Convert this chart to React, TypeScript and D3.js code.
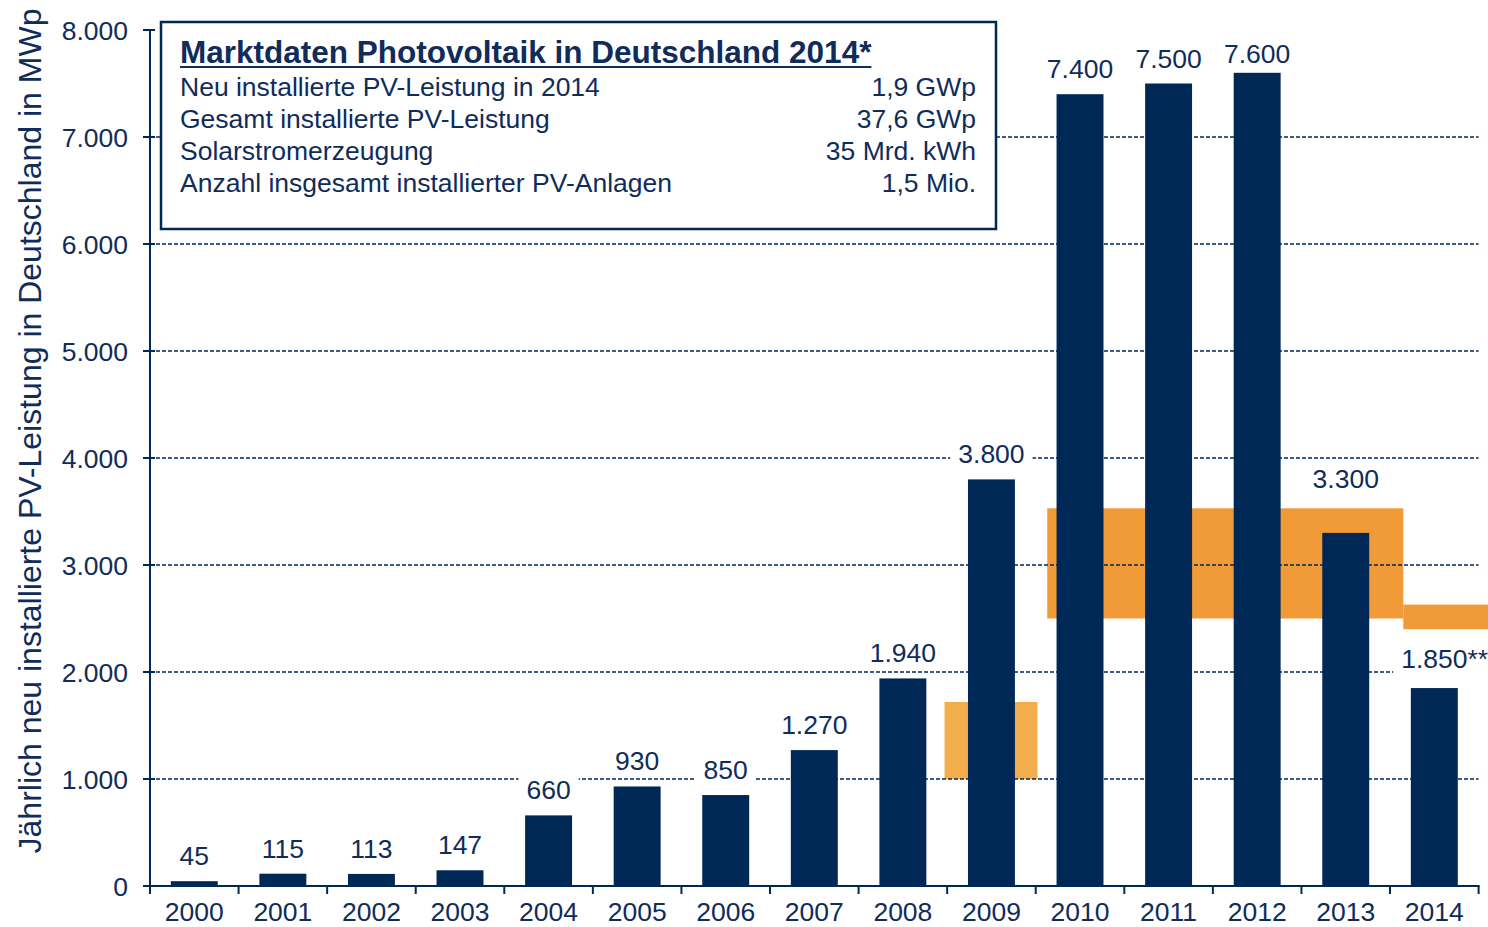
import React, { useEffect, useRef } from "react";
import * as d3 from "d3";

// Jährlich neu installierte PV-Leistung (MWp)
const years = ["2000", "2001", "2002", "2003", "2004", "2005", "2006", "2007", "2008", "2009", "2010", "2011", "2012", "2013", "2014"];
const installed = [45, 115, 113, 147, 660, 930, 850, 1270, 1940, 3800, 7400, 7500, 7600, 3300, 1850];
const labelSuffix = ["", "", "", "", "", "", "", "", "", "", "", "", "", "", "**"];

const yTicks = [0, 1000, 2000, 3000, 4000, 5000, 6000, 7000, 8000];
const gridValues = [1000, 2000, 3000, 4000, 5000, 6000, 7000];

// Zubaukorridore (in Jahren auf der Achse, MWp)
const corridorFrom = [2008.97, 2010.13, 2014.15];
const corridorTo = [2010.02, 2014.15, 2015.2];
const corridorLow = [1000, 2500, 2400];
const corridorHigh = [1720, 3530, 2630];

const boxTitle = "Marktdaten Photovoltaik in Deutschland 2014*";
const boxLabels = ["Neu installierte PV-Leistung in 2014", "Gesamt installierte PV-Leistung", "Solarstromerzeugung", "Anzahl insgesamt installierter PV-Anlagen"];
const boxValues = ["1,9 GWp", "37,6 GWp", "35 Mrd. kWh", "1,5 Mio."];

const NAVY = "#002856";
const TEXT = "#0f2c5a";
const FONT = "'Liberation Sans', Arial, sans-serif";
const FS = 26.5;

const de = d3.formatLocale({ decimal: ",", thousands: ".", grouping: [3], currency: ["", " €"] });
const fmt = de.format(",d");

const App = () => {
    const ref = useRef(null);

    useEffect(() => {
        const svg = d3.select(ref.current);
        svg.selectAll("*").remove();

        const left = 150, right = 1478.6, top = 30, bottom = 886;

        const x = d3.scaleBand().domain(years).range([left, right]).paddingInner(0.47).paddingOuter(0.235);
        const xYear = d3.scaleLinear().domain([2000, 2015]).range([left, right]);
        const y = d3.scaleLinear().domain([0, 8000]).range([bottom, top]);
        const step = x.step();

        // corridors
        svg.append("g").selectAll("rect")
            .data(corridorFrom.map((f, i) => ({ f, t: corridorTo[i], lo: corridorLow[i], hi: corridorHigh[i], i })))
            .enter().append("rect")
            .attr("x", d => xYear(d.f))
            .attr("width", d => Math.min(xYear(d.t), 1488) - xYear(d.f))
            .attr("y", d => y(d.hi))
            .attr("height", d => y(d.lo) - y(d.hi))
            .attr("fill", d => d.i === 0 ? "#f2ad4d" : "#f09b37");

        // grid
        svg.append("g").selectAll("line")
            .data(gridValues).enter().append("line")
            .attr("x1", left).attr("x2", right)
            .attr("y1", d => y(d)).attr("y2", d => y(d))
            .attr("stroke", NAVY).attr("stroke-width", 1.5)
            .attr("stroke-dasharray", "4,2");

        // bars
        svg.append("g").selectAll("rect")
            .data(years).enter().append("rect")
            .attr("x", d => x(d))
            .attr("width", x.bandwidth())
            .attr("y", (d, i) => y(installed[i]))
            .attr("height", (d, i) => bottom - y(installed[i]))
            .attr("fill", NAVY);

        // value labels with white background
        const labels = svg.append("g").attr("font-family", FONT).attr("font-size", FS).attr("fill", TEXT);
        years.forEach((yr, i) => {
            let by = Math.max(y(installed[i]) - 16, 63);
            if (yr === "2013") by = y(corridorHigh[1]) - 20;
            if (yr === "2014") by = y(installed[i]) - 20;
            const cx = x(yr) + x.bandwidth() / 2;
            const g = labels.append("g");
            const bg = g.append("rect").attr("fill", "white");
            const t = g.append("text")
                .attr("x", cx).attr("y", by)
                .attr("text-anchor", "middle")
                .text(fmt(installed[i]));
            let w = (t.node() as any).getComputedTextLength();
            if (labelSuffix[i]) {
                t.attr("text-anchor", "start").attr("x", cx - w / 2).text(fmt(installed[i]) + labelSuffix[i]);
                const w2 = (t.node() as any).getComputedTextLength();
                bg.attr("x", cx - w / 2 - 8).attr("width", w2 + 16);
            } else {
                bg.attr("x", cx - w / 2 - 8).attr("width", w + 16);
            }
            bg.attr("y", by - 22).attr("height", 28);
        });

        // axes
        const axes = svg.append("g").attr("stroke", NAVY).attr("stroke-width", 2);
        axes.append("line").attr("x1", left).attr("x2", left).attr("y1", top).attr("y2", bottom);
        axes.append("line").attr("x1", left).attr("x2", right + 1).attr("y1", bottom).attr("y2", bottom);
        axes.selectAll(".yt").data(yTicks).enter().append("line")
            .attr("x1", left - 7).attr("x2", left + 5)
            .attr("y1", d => y(d)).attr("y2", d => y(d));
        axes.selectAll(".xt").data(d3.range(years.length + 1)).enter().append("line")
            .attr("x1", d => left + d * step).attr("x2", d => left + d * step)
            .attr("y1", bottom).attr("y2", bottom + 8);

        const tickText = svg.append("g").attr("font-family", FONT).attr("font-size", FS).attr("fill", TEXT);
        tickText.selectAll(".yl").data(yTicks).enter().append("text")
            .attr("x", 128).attr("y", d => y(d)).attr("dy", "0.36em")
            .attr("text-anchor", "end")
            .text(d => fmt(d));
        tickText.selectAll(".xl").data(years).enter().append("text")
            .attr("x", d => x(d) + x.bandwidth() / 2).attr("y", 921)
            .attr("text-anchor", "middle")
            .text(d => d);

        svg.append("text")
            .attr("transform", "translate(41,431) rotate(-90)")
            .attr("text-anchor", "middle")
            .attr("font-family", FONT).attr("font-size", 32).attr("fill", TEXT)
            .text("Jährlich neu installierte PV-Leistung in Deutschland in MWp");

        // info box
        const box = svg.append("g").attr("font-family", FONT).attr("fill", TEXT);
        box.append("rect").attr("x", 161).attr("y", 22).attr("width", 835).attr("height", 207)
            .attr("fill", "white").attr("stroke", NAVY).attr("stroke-width", 2.5);
        const title = box.append("text").attr("x", 180).attr("y", 63)
            .attr("font-size", 31.5).attr("font-weight", "bold").text(boxTitle);
        const tw = (title.node() as any).getComputedTextLength();
        box.append("line").attr("x1", 180).attr("x2", 180 + tw).attr("y1", 67).attr("y2", 67)
            .attr("stroke", TEXT).attr("stroke-width", 2);
        boxLabels.forEach((l, i) => {
            box.append("text").attr("x", 180).attr("y", 96 + i * 32).attr("font-size", FS).text(l);
            box.append("text").attr("x", 976).attr("y", 96 + i * 32).attr("font-size", FS)
                .attr("text-anchor", "end").text(boxValues[i]);
        });
    }, []);

    return (
        <svg ref={ref} width={1488} height={927}
            style={{ position: "absolute", left: 0, top: 0, background: "white" }} />
    );
};

export default App;
